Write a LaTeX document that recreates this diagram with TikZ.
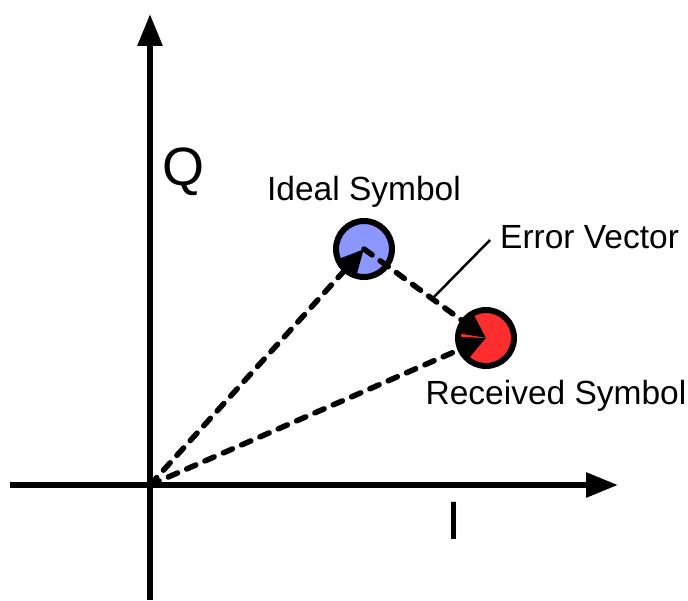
\documentclass[tikz,border=0pt]{standalone}
\usepackage{fontspec}
\setmainfont{Liberation Sans}
\usetikzlibrary{arrows.meta, positioning}

\begin{document}
\begin{tikzpicture}[
  x=1pt, y=-1pt,
  axis/.style={line width=6pt, -{Triangle[length=32pt,width=24pt]}},
  vector/.style={line width=5.5pt, dash pattern=on 10pt off 10pt, line cap=round,
                 -{Triangle[length=26pt,width=24pt]}},
  symbol/.style={circle, draw, line width=6pt, minimum size=56pt, inner sep=0pt},
  label/.style={font=\fontsize{33.5}{38}\selectfont, inner sep=0pt},
  axislabel/.style={font=\fontsize{54}{60}\selectfont, inner sep=0pt},
]
\useasboundingbox (0,0) rectangle (688,601);

% Axes
\coordinate (origin) at (150,485);
\coordinate (qbot) at (150,600);
\coordinate (qtop) at (150,14);
\coordinate (ileft) at (10,485);
\coordinate (iright) at (618,485);
\draw[axis] (qbot) -- (qtop);
\draw[axis] (ileft) -- (iright);
\node[axislabel] (qlab) at (183,172) {Q};
\node[axislabel] (ilab) at (454,521) {I};

% Symbols
\node[symbol, fill={rgb,255:red,140;green,150;blue,255}] (ideal) at (364,249) {};
\node[symbol, fill={rgb,255:red,255;green,45;blue,45}] (recv) at (486,338) {};
\node[label, above=10pt of ideal] (ideallab) {Ideal Symbol};
\node[label, below=11pt of recv, xshift=70pt] (recvlab) {Received Symbol};

% Vectors
\draw[vector] (origin) -- (ideal.center);
\draw[vector] (origin) -- (recv.center);
\draw[vector] (ideal.center) -- (recv.center);

% Error vector callout
\coordinate (errpt) at (433,298);
\node[label, anchor=west] (errlab) at (500,237) {Error Vector};
\draw[line width=2.5pt] (errpt) -- (490,240);
\end{tikzpicture}
\end{document}
